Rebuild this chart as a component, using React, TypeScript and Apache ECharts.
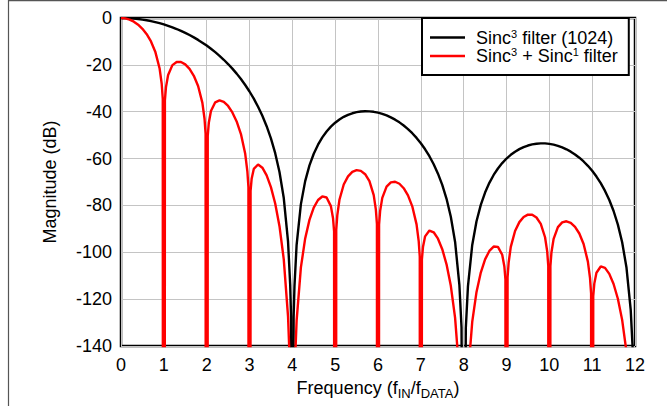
import React, { useEffect, useRef } from "react";
import * as echarts from "echarts";

// Sinc^3 filter (1024) response, dB (-300 marks a null below the plot floor)
const blackFreq: number[] = [
  0, 0.1, 0.2, 0.3, 0.4, 0.5, 0.6, 0.7, 0.8, 0.9, 1.0, 1.1, 1.2, 1.3, 1.4, 1.5, 1.6, 1.7, 1.8, 1.9,
  2.0, 2.1, 2.2, 2.3, 2.4, 2.5, 2.6, 2.7, 2.8, 2.9, 3.0, 3.1, 3.2, 3.3, 3.4, 3.5, 3.6, 3.7, 3.8, 3.9,
  3.95, 3.97, 4.0, 4.03, 4.05,
  4.1, 4.2, 4.3, 4.4, 4.5, 4.6, 4.7, 4.8, 4.9, 5.0, 5.1, 5.2, 5.3, 5.4, 5.5, 5.6, 5.7, 5.8, 5.9,
  6.0, 6.1, 6.2, 6.3, 6.4, 6.5, 6.6, 6.7, 6.8, 6.9, 7.0, 7.1, 7.2, 7.3, 7.4, 7.5, 7.6, 7.7, 7.8, 7.9,
  7.95, 8.0, 8.05,
  8.1, 8.2, 8.3, 8.4, 8.5, 8.6, 8.7, 8.8, 8.9, 9.0, 9.1, 9.2, 9.3, 9.4, 9.5, 9.6, 9.7, 9.8, 9.9,
  10.0, 10.1, 10.2, 10.3, 10.4, 10.5, 10.6, 10.7, 10.8, 10.9, 11.0, 11.1, 11.2, 11.3, 11.4, 11.5,
  11.6, 11.7, 11.8, 11.9, 11.95, 12.0,
];
const blackMag: number[] = [
  0, -0.03, -0.11, -0.25, -0.43, -0.68, -0.98, -1.33, -1.75, -2.21, -2.74, -3.33, -3.98, -4.7, -5.49, -6.34, -7.27, -8.27, -9.35, -10.52,
  -11.77, -13.12, -14.58, -16.14, -17.83, -19.65, -21.62, -23.74, -26.06, -28.59, -31.37, -34.44, -37.87, -41.73, -46.18, -51.38, -57.69, -65.71, -76.84, -95.49,
  -113.87, -127.3, -300, -127.7, -114.52,
  -96.8, -79.45, -69.63, -62.92, -57.93, -54.06, -50.95, -48.43, -46.37, -44.68, -43.3, -42.19, -41.32, -40.66, -40.19, -39.91, -39.79, -39.84, -40.04,
  -40.4, -40.91, -41.57, -42.4, -43.39, -44.54, -45.89, -47.42, -49.18, -51.18, -53.45, -56.04, -59.0, -62.42, -66.44, -71.24, -77.16, -84.81, -95.58, -113.89,
  -132.09, -300, -132.42,
  -114.54, -96.88, -86.76, -79.77, -74.51, -70.36, -66.99, -64.23, -61.92, -59.99, -58.39, -57.06, -55.97, -55.11, -54.43, -53.96, -53.65, -53.5, -53.53,
  -53.71, -54.05, -54.55, -55.21, -56.04, -57.04, -58.24, -59.62, -61.24, -63.1, -65.22, -67.68, -70.51, -73.8, -77.7, -82.38,
  -88.18, -95.71, -106.36, -124.56, -142.71, -300,
];

// Sinc^3 + Sinc^1 filter response, dB
const redFreq: number[] = [
  0, 0.1, 0.2, 0.3, 0.4, 0.5, 0.6, 0.7, 0.8, 0.9, 0.95, 0.975,
  0.98, 1.02, 1.025, 1.05, 1.1, 1.2, 1.3, 1.4, 1.5, 1.6, 1.7, 1.8, 1.9, 1.95, 1.975,
  1.98, 2.02, 2.025, 2.05, 2.1, 2.2, 2.3, 2.4, 2.5, 2.6, 2.7, 2.8, 2.9, 2.95, 2.975,
  2.98, 3.02, 3.025, 3.05, 3.1, 3.2, 3.3, 3.4, 3.5, 3.6, 3.7, 3.8, 3.9, 3.95,
  4, 4.05, 4.1, 4.2, 4.3, 4.4, 4.5, 4.6, 4.7, 4.8, 4.9, 4.95, 4.975,
  4.98, 5.02, 5.025, 5.05, 5.1, 5.2, 5.3, 5.4, 5.5, 5.6, 5.7, 5.8, 5.9, 5.95, 5.975,
  5.98, 6.02, 6.025, 6.05, 6.1, 6.2, 6.3, 6.4, 6.5, 6.6, 6.7, 6.8, 6.9, 6.95, 6.975,
  6.98, 7.02, 7.025, 7.05, 7.1, 7.2, 7.3, 7.4, 7.5, 7.6, 7.7, 7.8, 7.9,
  8, 8.1, 8.2, 8.3, 8.4, 8.5, 8.6, 8.7, 8.8, 8.9, 8.95, 8.975,
  8.98, 9.02, 9.025, 9.05, 9.1, 9.2, 9.3, 9.4, 9.5, 9.6, 9.7, 9.8, 9.9, 9.95, 9.975,
  9.98, 10.02, 10.025, 10.05, 10.1, 10.2, 10.3, 10.4, 10.5, 10.6, 10.7, 10.8, 10.9, 10.95, 10.975,
  10.98, 11.02, 11.025, 11.05, 11.1, 11.2, 11.3, 11.4, 11.5, 11.6, 11.7, 11.8, 11.9,
];
const redMag: number[] = [
  0, -0.17, -0.69, -1.57, -2.85, -4.6, -6.92, -10.01, -14.37, -21.43, -28.08, -34.43,
  -300, -300, -35.15, -29.51, -24.3, -20.12, -18.76, -18.79, -19.8, -21.73, -24.66, -29.01, -36.23, -42.99, -49.41,
  -300, -300, -50.28, -44.73, -39.7, -35.99, -35.15, -35.81, -37.55, -40.3, -44.15, -49.56, -57.98, -65.43, -72.19,
  -300, -300, -73.8, -68.64, -64.41, -62.53, -63.88, -67.19, -72.2, -79.2, -88.85, -102.99, -127.45, -151.85,
  -300, -152.72, -129.2, -106.47, -94.08, -86.17, -80.93, -77.69, -76.17, -76.61, -80.31, -85.46, -91.09,
  -300, -300, -90.41, -84.11, -77.59, -71.07, -67.58, -65.69, -64.94, -65.25, -66.69, -69.67, -75.6, -81.76, -87.89,
  -300, -300, -88.17, -82.34, -76.76, -71.98, -70.17, -69.89, -70.74, -72.66, -75.72, -80.39, -88.09, -95.2, -101.8,
  -300, -300, -103.08, -97.76, -93.2, -90.71, -91.46, -94.2, -98.68, -105.15, -114.32, -127.98, -151.98,
  -300, -152.85, -129.71, -116.92, -108.63, -103.04, -99.43, -97.56, -97.68, -101.05, -106.04, -111.58,
  -300, -300, -110.75, -104.38, -97.71, -90.89, -87.12, -84.95, -83.92, -83.98, -85.16, -87.88, -93.58, -99.63, -105.69,
  -300, -300, -105.87, -99.97, -94.28, -89.28, -87.25, -86.76, -87.4, -89.12, -91.99, -96.47, -103.98, -111.0, -117.55,
  -300, -300, -118.73, -113.37, -108.72, -106.05, -106.64, -109.22, -113.53, -119.85, -128.85, -142.36, -166.21,
];

const seriesNames: string[] = ["Sinc³ filter (1024)", "Sinc³ + Sinc¹ filter"];
const legendRich: string[] = [
  "{t|Sinc}{sup|3}{t| filter (1024)}",
  "{t|Sinc}{sup|3}{t| + Sinc}{sup|1}{t| filter}",
];
const xTicks = { min: 0, max: 12, interval: 1 };
const yTicks = { min: -140, max: 0, interval: 20 };

const FONT = "'Liberation Sans', Arial, Helvetica, sans-serif";
const FS = 18;
const LFS = 18;

export default function App() {
  const ref = useRef<HTMLDivElement>(null);
  useEffect(() => {
    if (!ref.current) return;
    const chart = echarts.init(ref.current, undefined, { renderer: "svg" });
    const zip = (xs: number[], ys: number[]) => xs.map((x, i) => [x, ys[i]]);
    chart.setOption({
      animation: false,
      backgroundColor: "#fff",
      textStyle: { fontFamily: FONT },
      grid: {
        left: 121,
        right: 32,
        top: 18,
        bottom: 60,
        show: true,
        borderColor: "#000",
        borderWidth: 2.5,
        backgroundColor: "transparent",
      },
      xAxis: {
        type: "value",
        ...xTicks,
        axisLine: { show: false },
        axisTick: { show: false },
        splitLine: { show: true, lineStyle: { color: "#c4c4c4", width: 1 } },
        axisLabel: { color: "#000", fontSize: FS, fontFamily: FONT, margin: 10 },
        name: "{t|Frequency (f}{sub|IN}{t|/f}{sub|DATA}{t|)}",
        nameLocation: "middle",
        nameGap: 20,
        nameTextStyle: {
          color: "#000",
          fontFamily: FONT,
          rich: {
            t: { fontSize: FS, fontFamily: FONT, color: "#000", lineHeight: 24, verticalAlign: "middle" },
            sub: { fontSize: 13, fontFamily: FONT, color: "#000", lineHeight: 13, verticalAlign: "bottom" },
          },
        },
      },
      yAxis: {
        type: "value",
        ...yTicks,
        axisLine: { show: false },
        axisTick: { show: false },
        splitLine: { show: true, lineStyle: { color: "#c4c4c4", width: 1 } },
        axisLabel: { color: "#000", fontSize: FS, fontFamily: FONT, margin: 9 },
        name: "Magnitude (dB)",
        nameLocation: "middle",
        nameGap: 62,
        nameTextStyle: { color: "#000", fontSize: FS, fontFamily: FONT },
      },
      legend: {
        orient: "vertical",
        left: 422,
        top: 18,
        padding: [10, 11, 10, 8],
        itemWidth: 35,
        itemHeight: 2.5,
        itemGap: 0,
        icon: "rect",
        borderColor: "#000",
        borderWidth: 2,
        backgroundColor: "#fff",
        data: seriesNames,
        formatter: (name: string) => legendRich[seriesNames.indexOf(name)],
        textStyle: {
          color: "#000",
          fontFamily: FONT,
          fontSize: LFS,
          padding: [0, 0, 0, 6],
          rich: {
            t: { fontSize: LFS, fontFamily: FONT, color: "#000", lineHeight: 19 },
            sup: { fontSize: 11, fontFamily: FONT, color: "#000", lineHeight: 12, verticalAlign: "top" },
          },
        },
      },
      graphic: [
        { type: "line", shape: { x1: 8.5, y1: 0, x2: 8.5, y2: 406 }, style: { stroke: "#555", lineWidth: 1.2 }, silent: true },
        { type: "line", shape: { x1: 8, y1: 0.6, x2: 667, y2: 0.6 }, style: { stroke: "#555", lineWidth: 1.2 }, silent: true },
      ],
      series: [
        {
          name: seriesNames[0],
          type: "line",
          data: zip(blackFreq, blackMag),
          showSymbol: false,
          symbol: "none",
          clip: true,
          lineStyle: { color: "#000", width: 2.4 },
          itemStyle: { color: "#000" },
        },
        {
          name: seriesNames[1],
          type: "line",
          data: zip(redFreq, redMag),
          showSymbol: false,
          symbol: "none",
          clip: true,
          lineStyle: { color: "#ff0000", width: 2.4 },
          itemStyle: { color: "#ff0000" },
        },
      ],
    });
    return () => chart.dispose();
  }, []);
  return (
    <div
      ref={ref}
      style={{ position: "fixed", left: 0, top: 0, width: 667, height: 406, background: "#fff" }}
    />
  );
}
